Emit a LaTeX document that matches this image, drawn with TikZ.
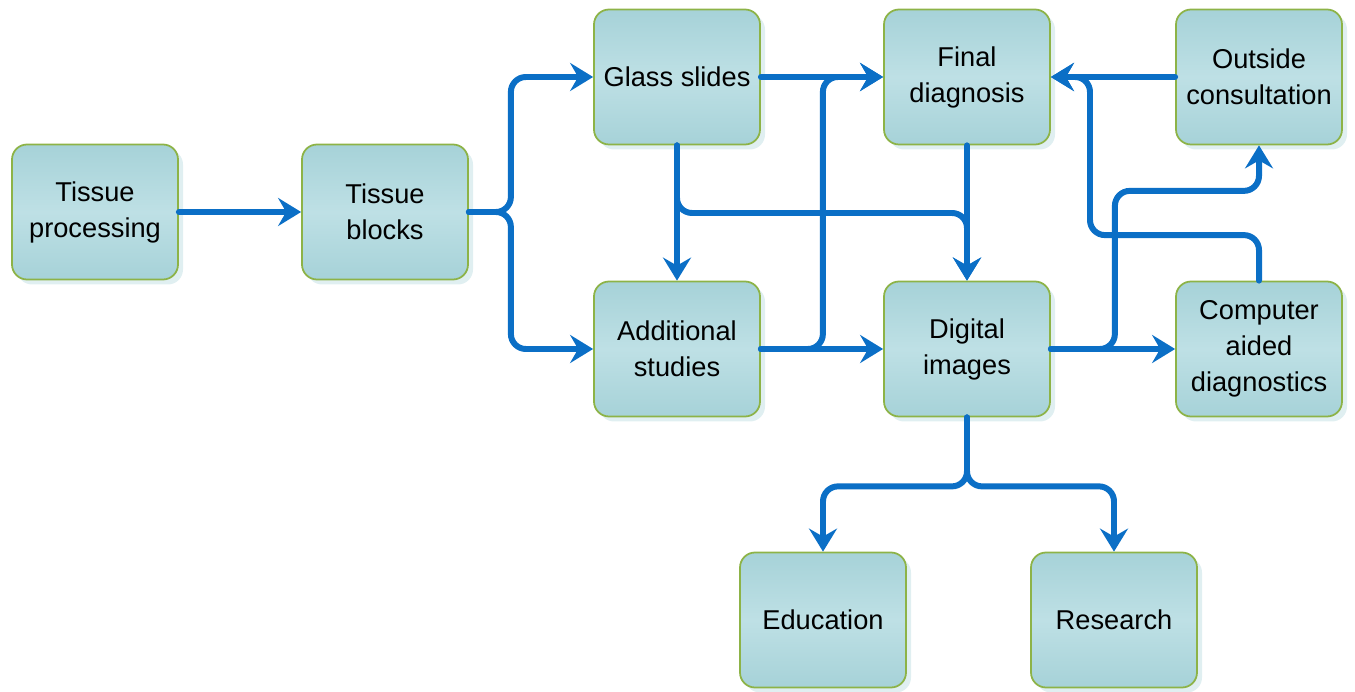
\documentclass[tikz,border=0pt]{standalone}
\usepackage{fontspec}
\setmainfont{Liberation Sans}
\usetikzlibrary{arrows.meta, calc, shadows}
\definecolor{flowblue}{HTML}{0B6FC6}
\definecolor{boxline}{HTML}{8DB347}
\definecolor{boxtop}{HTML}{A6D2D8}
\definecolor{boxmid}{HTML}{BEE0E5}

\begin{document}
\begin{tikzpicture}[
        box/.style={draw=boxline, line width=1pt, rounded corners=0.3cm,
            top color=boxtop, bottom color=boxtop, middle color=boxmid,
            minimum width=3.32cm, minimum height=2.7cm, inner sep=0pt,
            align=center, font=\fontsize{15.5}{20.5}\selectfont,
            drop shadow={shadow xshift=0.1cm, shadow yshift=-0.1cm, fill=boxtop, opacity=0.35}},
        flow/.style={draw=flowblue, line width=3.4pt, line cap=round,
            rounded corners=0.3cm, -{Stealth[length=4.6mm, width=5.6mm, inset=1.6mm]}}
    ]
    \useasboundingbox (0,0) rectangle (27.1,-13.84);
    \node[box] (tproc) at (1.9,-4.24) {Tissue\\processing};
    \node[box] (tblocks) at (7.7,-4.24) {Tissue\\blocks};
    \node[box] (glass) at (13.54,-1.54) {Glass slides};
    \node[box] (final) at (19.34,-1.54) {Final\\diagnosis};
    \node[box] (outside) at (25.18,-1.54) {Outside\\consultation};
    \node[box] (addst) at (13.54,-6.98) {Additional\\studies};
    \node[box] (digital) at (19.34,-6.98) {Digital\\images};
    \node[box] (cad) at (25.18,-6.98) {Computer\\aided\\diagnostics};
    \node[box] (educ) at (16.46,-12.4) {Education};
    \node[box] (research) at (22.28,-12.4) {Research};

    \draw[flow] (tproc) -- (tblocks);
    \draw[flow] (tblocks.east) -- ++(0.84,0) |- (glass);
    \draw[flow] (tblocks.east) -- ++(0.84,0) |- (addst);
    \draw[flow] (glass) -- (final);
    \draw[flow] (addst) -- (digital);
    \draw[flow] (addst.east) -- ++(1.24,0) |- (final);
    \draw[flow] (glass) -- (addst);
    \draw[flow] (glass.south) |- ($(final.south)!0.5!(digital.north)$) -- (digital);
    \draw[flow] (final) -- (digital);
    \draw[flow] (digital) -- (cad);
    \draw[flow] (digital.east) -- ++(1.28,0) |- ($(outside.south)+(0,-0.91)$) -- (outside.south);
    \draw[flow] (outside) -- (final);
    \draw[flow] (cad.north) |- ++(-3.38,0.91) |- (final);
    \draw[flow] (digital.south) -- ++(0,-1.38) -| (educ);
    \draw[flow] (digital.south) -- ++(0,-1.38) -| (research);
\end{tikzpicture}
\end{document}
